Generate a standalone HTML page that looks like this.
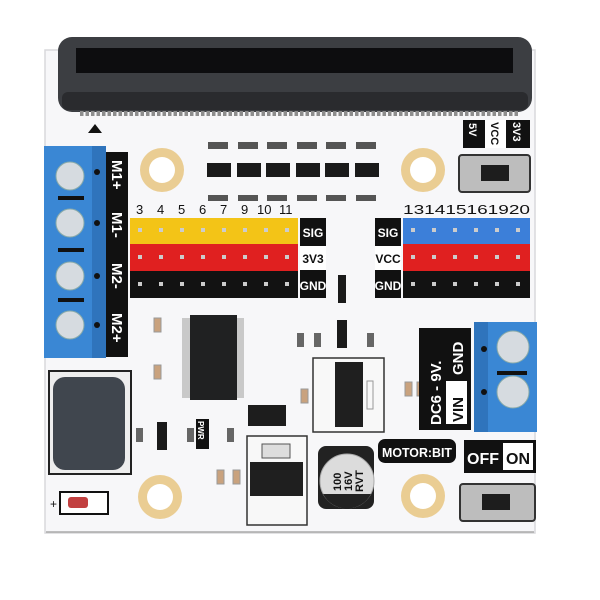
<!DOCTYPE html>
<html><head><meta charset="utf-8"><style>
html,body{margin:0;padding:0;background:#fff;}
svg{display:block;}
text{font-family:"Liberation Sans",sans-serif;}
</style></head><body>
<svg width="600" height="600" viewBox="0 0 600 600" xmlns="http://www.w3.org/2000/svg">
<defs>
<pattern id="pinpat" x="80" y="0" width="5.5" height="5" patternUnits="userSpaceOnUse">
<rect x="0" y="0" width="3.5" height="5" fill="#8d8d8d"/>
</pattern>
</defs>
<rect width="600" height="600" fill="#fff"/>
<!-- board -->
<rect x="45" y="50" width="490" height="483" fill="#f7f7f9" stroke="#d8d8dc" stroke-width="1.5"/>
<line x1="46" y1="532" x2="534" y2="532" stroke="#aaa" stroke-width="1.5"/>
<!-- edge connector -->
<rect x="58" y="37" width="474" height="75" rx="14" fill="#3c3e42"/>
<rect x="62" y="92" width="466" height="18" rx="6" fill="#2a2b2e"/>
<rect x="76" y="48" width="437" height="25" fill="#0d0d0f"/>
<rect x="80" y="111" width="440" height="5" fill="url(#pinpat)"/>
<polygon points="88,133 95,124 102,133" fill="#111"/>
<!-- left terminal -->
<rect x="44" y="146" width="62" height="212" fill="#3a87d4"/>
<rect x="92" y="146" width="14" height="212" fill="#2f74bc"/>
<g fill="#d6dbe0" stroke="#8aa" stroke-width="1">
<circle cx="70" cy="176" r="14"/><circle cx="70" cy="223" r="14"/><circle cx="70" cy="276" r="14"/><circle cx="70" cy="325" r="14"/>
</g>
<g fill="#111"><rect x="58" y="196" width="26" height="4"/><rect x="58" y="248" width="26" height="4"/><rect x="58" y="298" width="26" height="4"/>
<circle cx="97" cy="172" r="3"/><circle cx="97" cy="223" r="3"/><circle cx="97" cy="276" r="3"/><circle cx="97" cy="325" r="3"/></g>
<rect x="106" y="152" width="22" height="205" fill="#111"/>
<g fill="#fff" font-size="15" font-weight="bold">
<text transform="translate(112,160) rotate(90)">M1+</text>
<text transform="translate(112,212) rotate(90)">M1-</text>
<text transform="translate(112,263) rotate(90)">M2-</text>
<text transform="translate(112,313) rotate(90)">M2+</text>
</g>
<!-- mounting holes -->
<g fill="#eacd93"><circle cx="162" cy="170" r="22"/><circle cx="423" cy="170" r="22"/><circle cx="160" cy="497" r="22"/><circle cx="423" cy="496" r="22"/></g>
<g fill="#fff"><circle cx="162" cy="170" r="13"/><circle cx="423" cy="170" r="13"/><circle cx="160" cy="497" r="13"/><circle cx="423" cy="496" r="13"/></g>
<!-- small transistors top -->
<g fill="#1a1a1a">
<rect x="207" y="163" width="24" height="14"/><rect x="237" y="163" width="24" height="14"/><rect x="266" y="163" width="24" height="14"/><rect x="296" y="163" width="24" height="14"/><rect x="325" y="163" width="24" height="14"/><rect x="355" y="163" width="24" height="14"/>
</g>
<g fill="#555">
<rect x="208" y="142" width="20" height="7"/><rect x="238" y="142" width="20" height="7"/><rect x="267" y="142" width="20" height="7"/><rect x="297" y="142" width="20" height="7"/><rect x="326" y="142" width="20" height="7"/><rect x="356" y="142" width="20" height="7"/>
<rect x="208" y="195" width="20" height="6"/><rect x="238" y="195" width="20" height="6"/><rect x="267" y="195" width="20" height="6"/><rect x="297" y="195" width="20" height="6"/><rect x="326" y="195" width="20" height="6"/><rect x="356" y="195" width="20" height="6"/>
</g>
<!-- top right labels & switch -->
<rect x="463" y="120" width="67" height="28" fill="#111"/>
<rect x="485" y="120" width="21" height="28" fill="#fff"/>
<g font-size="11" font-weight="bold">
<text transform="translate(469,123) rotate(90)" fill="#fff">5V</text>
<text transform="translate(491,122) rotate(90)" fill="#111">VCC</text>
<text transform="translate(513,122) rotate(90)" fill="#fff">3V3</text>
</g>
<rect x="459" y="155" width="71" height="37" rx="3" fill="#bdbdbd" stroke="#333" stroke-width="2"/>
<rect x="481" y="165" width="28" height="16" fill="#1d1d1d"/>
<!-- header numbers -->
<g font-size="13" fill="#111">
<text x="136" y="214">3</text><text x="157" y="214">4</text><text x="178" y="214">5</text><text x="199" y="214">6</text><text x="220" y="214">7</text><text x="241" y="214">9</text><text x="257" y="214">10</text><text x="279" y="214">11</text>
<text x="403" y="214" textLength="127" lengthAdjust="spacingAndGlyphs">131415161920</text>
</g>
<rect x="130" y="218" width="168" height="26" fill="#f3c417"/>
<rect x="130" y="244" width="168" height="27" fill="#e02020"/>
<rect x="130" y="271" width="168" height="27" fill="#121212"/>
<rect x="403" y="218" width="127" height="26" fill="#3c7fd9"/>
<rect x="403" y="244" width="127" height="27" fill="#e02020"/>
<rect x="403" y="271" width="127" height="27" fill="#121212"/>
<g fill="#ccc">
<rect x="138" y="228" width="4" height="4"/><rect x="159" y="228" width="4" height="4"/><rect x="180" y="228" width="4" height="4"/><rect x="201" y="228" width="4" height="4"/><rect x="222" y="228" width="4" height="4"/><rect x="243" y="228" width="4" height="4"/><rect x="264" y="228" width="4" height="4"/><rect x="285" y="228" width="4" height="4"/>
<rect x="138" y="255" width="4" height="4"/><rect x="159" y="255" width="4" height="4"/><rect x="180" y="255" width="4" height="4"/><rect x="201" y="255" width="4" height="4"/><rect x="222" y="255" width="4" height="4"/><rect x="243" y="255" width="4" height="4"/><rect x="264" y="255" width="4" height="4"/><rect x="285" y="255" width="4" height="4"/>
<rect x="138" y="282" width="4" height="4"/><rect x="159" y="282" width="4" height="4"/><rect x="180" y="282" width="4" height="4"/><rect x="201" y="282" width="4" height="4"/><rect x="222" y="282" width="4" height="4"/><rect x="243" y="282" width="4" height="4"/><rect x="264" y="282" width="4" height="4"/><rect x="285" y="282" width="4" height="4"/>
<rect x="411" y="228" width="4" height="4"/><rect x="432" y="228" width="4" height="4"/><rect x="453" y="228" width="4" height="4"/><rect x="474" y="228" width="4" height="4"/><rect x="495" y="228" width="4" height="4"/><rect x="516" y="228" width="4" height="4"/>
<rect x="411" y="255" width="4" height="4"/><rect x="432" y="255" width="4" height="4"/><rect x="453" y="255" width="4" height="4"/><rect x="474" y="255" width="4" height="4"/><rect x="495" y="255" width="4" height="4"/><rect x="516" y="255" width="4" height="4"/>
<rect x="411" y="282" width="4" height="4"/><rect x="432" y="282" width="4" height="4"/><rect x="453" y="282" width="4" height="4"/><rect x="474" y="282" width="4" height="4"/><rect x="495" y="282" width="4" height="4"/><rect x="516" y="282" width="4" height="4"/>
</g>
<!-- SIG labels -->
<rect x="300" y="218" width="26" height="80" fill="#111"/>
<rect x="300" y="246" width="26" height="24" fill="#fff"/>
<rect x="375" y="218" width="26" height="80" fill="#111"/>
<rect x="375" y="246" width="26" height="24" fill="#fff"/>
<g font-size="12" font-weight="bold" text-anchor="middle">
<text x="313" y="237" fill="#fff">SIG</text><text x="313" y="263" fill="#111">3V3</text><text x="313" y="290" fill="#fff">GND</text>
<text x="388" y="237" fill="#fff">SIG</text><text x="388" y="263" fill="#111">VCC</text><text x="388" y="290" fill="#fff">GND</text>
</g>
<rect x="338" y="275" width="8" height="28" fill="#1a1a1a"/>
<rect x="337" y="320" width="10" height="28" fill="#1a1a1a"/>
<!-- main chip -->
<rect x="182" y="318" width="62" height="80" fill="#c9c9c9"/>
<rect x="190" y="315" width="47" height="85" fill="#202122"/>
<!-- small parts -->
<g fill="#c9a27e" stroke="#999"><rect x="154" y="318" width="7" height="14"/><rect x="154" y="365" width="7" height="14"/><rect x="301" y="389" width="7" height="14"/><rect x="417" y="382" width="7" height="14"/><rect x="405" y="382" width="7" height="14"/><rect x="217" y="470" width="7" height="14"/><rect x="233" y="470" width="7" height="14"/></g>
<g fill="#666"><rect x="297" y="333" width="7" height="14"/><rect x="314" y="333" width="7" height="14"/><rect x="367" y="333" width="7" height="14"/><rect x="136" y="428" width="7" height="14"/><rect x="187" y="428" width="7" height="14"/><rect x="227" y="428" width="7" height="14"/></g>
<rect x="157" y="422" width="10" height="28" fill="#1a1a1a"/>
<rect x="196" y="419" width="13" height="30" fill="#111"/>
<text transform="translate(198,421) rotate(90)" font-size="8" font-weight="bold" fill="#fff">PWR</text>
<rect x="248" y="405" width="38" height="21" fill="#1d1d1d"/>
<!-- upper regulator -->
<rect x="313" y="358" width="71" height="74" fill="#f8f8f8" stroke="#333" stroke-width="1.5"/>
<rect x="335" y="362" width="28" height="65" fill="#1f1f1f"/>
<rect x="367" y="381" width="6" height="28" fill="none" stroke="#999"/>
<!-- lower regulator -->
<rect x="247" y="436" width="60" height="89" fill="#f8f8f8" stroke="#333" stroke-width="1.5"/>
<rect x="262" y="444" width="28" height="14" fill="#ddd" stroke="#555"/>
<rect x="250" y="462" width="53" height="34" fill="#1f1f1f"/>
<!-- capacitor -->
<rect x="318" y="446" width="56" height="63" rx="8" fill="#222"/>
<circle cx="347" cy="481" r="27" fill="#dcdcdc" stroke="#aaa"/>
<path d="M323,494 A27,27 0 0 0 371,494 Z" fill="#222"/>
<g font-size="11" font-weight="bold" fill="#111">
<text transform="translate(341,491) rotate(-90)">100</text>
<text transform="translate(352,491) rotate(-90)">16V</text>
<text transform="translate(363,492) rotate(-90)">RVT</text>
</g>
<!-- inductor -->
<rect x="49" y="371" width="82" height="103" fill="#eee" stroke="#222" stroke-width="2"/>
<rect x="53" y="377" width="72" height="93" rx="12" fill="#40464e"/>
<!-- diode -->
<rect x="60" y="492" width="48" height="22" fill="#fff" stroke="#111" stroke-width="2"/>
<rect x="68" y="497" width="20" height="11" rx="3" fill="#c24040"/>
<text x="50" y="508" font-size="12" fill="#111">+</text>
<!-- DC label -->
<rect x="419" y="328" width="52" height="102" fill="#111"/>
<rect x="446" y="381" width="21" height="43" fill="#fff"/>
<g font-size="15" font-weight="bold">
<text transform="translate(441,425) rotate(-90)" fill="#fff">DC6 - 9V.</text>
<text transform="translate(463,422) rotate(-90)" fill="#111">VIN</text>
<text transform="translate(463,375) rotate(-90)" fill="#fff">GND</text>
</g>
<!-- right terminal -->
<rect x="474" y="322" width="63" height="110" fill="#3a87d4"/>
<rect x="474" y="322" width="14" height="110" fill="#2f74bc"/>
<g fill="#d6dbe0" stroke="#8aa"><circle cx="513" cy="347" r="16"/><circle cx="513" cy="392" r="16"/></g>
<rect x="497" y="371" width="30" height="4" fill="#111"/>
<circle cx="484" cy="349" r="3" fill="#111"/><circle cx="484" cy="392" r="3" fill="#111"/>
<!-- MOTOR:BIT -->
<rect x="378" y="439" width="78" height="24" rx="7" fill="#111"/>
<text x="417" y="457" font-size="13" font-weight="bold" fill="#fff" text-anchor="middle" textLength="70" lengthAdjust="spacingAndGlyphs">MOTOR:BIT</text>
<rect x="464" y="440" width="72" height="33" fill="#111"/>
<rect x="503" y="443" width="30" height="27" fill="#fff"/>
<text x="483" y="464" font-size="16" font-weight="bold" fill="#fff" text-anchor="middle">OFF</text>
<text x="518" y="464" font-size="16" font-weight="bold" fill="#111" text-anchor="middle">ON</text>
<!-- bottom switch -->
<rect x="460" y="484" width="75" height="37" rx="3" fill="#bdbdbd" stroke="#333" stroke-width="2"/>
<rect x="482" y="494" width="28" height="16" fill="#1d1d1d"/>
</svg>
</body></html>
